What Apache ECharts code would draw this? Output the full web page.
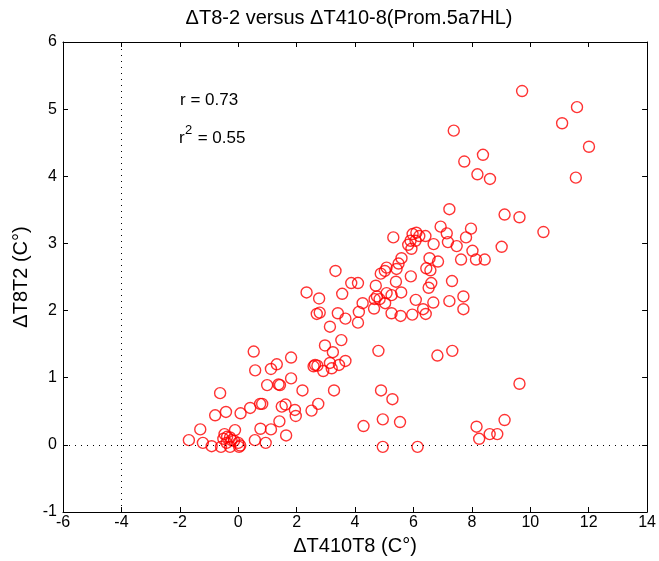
<!DOCTYPE html>
<html>
<head>
<meta charset="utf-8">
<script src="https://cdn.jsdelivr.net/npm/echarts@6/dist/echarts.min.js"></script>
<style>html,body{margin:0;padding:0;background:#fff;}#c{width:659px;height:561px;}</style>
</head>
<body>
<div id="c"></div>
<script>
var titleText = 'ΔT8-2 versus ΔT410-8(Prom.5a7HL)';
var xLabel = 'ΔT410T8 (C°)';
var yLabel = 'ΔT8T2 (C°)';
var xRange = [-6, 14, 2];
var yRange = [-1, 6, 1];
var refX = -4;
var refY = 0;
var statR = 'r = 0.73';
var statR2 = '0.55';

var xValues = [
 9.72,11.60,11.09,12.01,11.56,7.38,7.74,8.38,8.19,8.62,7.23,9.12,9.63,10.45,9.02,6.93,7.14,7.18,7.97,7.80,
 7.48,8.02,7.63,8.14,8.44,5.31,5.97,6.10,6.20,6.41,5.90,6.07,5.82,5.93,6.69,6.55,6.84,6.44,6.58,5.59,
 5.49,5.42,5.08,5.02,4.88,3.33,5.91,5.40,3.87,4.10,4.71,6.61,6.52,7.32,2.34,3.56,2.77,5.08,5.25,5.58,
 4.75,4.67,4.84,5.03,6.08,6.68,7.23,7.71,7.71,4.26,4.65,6.33,6.42,5.25,5.56,5.96,4.13,4.10,2.69,2.79,
 3.41,3.67,3.14,3.53,2.97,3.24,4.80,6.82,7.33,2.63,2.71,2.58,2.91,3.14,3.20,3.45,3.67,2.20,3.28,4.89,
 5.28,2.74,2.51,4.95,5.54,4.29,4.95,6.14,8.16,8.25,8.61,8.87,9.12,9.63,
 0.53,1.81,0.58,1.12,1.32,1.81,0.99,1.38,1.43,-0.62,0.75,0.82,1.62,1.49,0.41,0.08,-0.42,-0.79,1.94,1.97,
 1.41,-1.30,0.76,1.12,1.64,-0.11,-0.47,-0.38,-0.28,-0.51,-0.23,-0.40,-0.28,-1.69,-1.21,-0.91,-0.59,0.00,0.07,0.03,
 0.57,0.94,-0.14
];
var yValues = [
 5.27,5.03,4.79,4.44,3.98,4.68,4.22,4.32,4.03,3.96,3.51,3.43,3.39,3.17,2.95,3.25,3.15,3.02,3.22,3.09,
 2.96,2.89,2.76,2.76,2.76,3.09,3.14,3.16,3.11,3.11,3.04,3.04,2.98,2.92,2.99,2.78,2.73,2.63,2.60,2.78,
 2.70,2.62,2.64,2.59,2.55,2.59,2.51,2.43,2.41,2.41,2.37,2.41,2.34,2.44,2.27,2.25,2.18,2.26,2.23,2.27,
 2.21,2.17,2.17,2.11,2.16,2.12,2.14,2.21,2.02,2.11,2.03,2.02,1.95,1.96,1.92,1.94,1.98,1.82,1.95,1.97,
 1.96,1.88,1.76,1.56,1.48,1.38,1.40,1.33,1.40,1.19,1.18,1.17,1.10,1.22,1.14,1.19,1.25,0.81,0.81,0.81,
 0.68,0.61,0.51,0.38,0.34,0.28,-0.03,-0.03,0.27,0.09,0.16,0.16,0.37,0.91,
 1.39,1.30,1.11,1.13,1.20,0.99,0.89,0.90,0.89,0.77,0.61,0.61,0.60,0.57,0.55,0.47,0.49,0.44,0.52,0.43,
 0.35,0.23,0.24,0.23,0.14,0.22,0.16,0.12,0.11,0.09,0.07,0.03,-0.03,0.07,0.03,-0.02,-0.03,0.03,-0.01,-0.03,
 0.07,0.03,0.06
];

var points = xValues.map(function (x, i) { return [x, yValues[i]]; });
var FONT = 'Liberation Sans, Arial, sans-serif';
var TICKFONT = {color: '#000', fontFamily: FONT, fontSize: 16};

var chart = echarts.init(document.getElementById('c'), null, {renderer: 'canvas'});
function ax(extra) {
  return Object.assign({
    type: 'value',
    axisLine: {show: true, onZero: false, lineStyle: {color: '#000', width: 1}},
    axisTick: {show: true, inside: true, length: 5, lineStyle: {color: '#000'}},
    splitLine: {show: false}
  }, extra);
}

chart.setOption({
  animation: false,
  backgroundColor: '#fff',
  grid: {left: 63, right: 6, top: 42, bottom: 49, containLabel: false},
  xAxis: [
    ax({position: 'bottom', min: xRange[0], max: xRange[1], interval: xRange[2], axisLabel: Object.assign({margin: 3}, TICKFONT)}),
    ax({position: 'top', min: xRange[0], max: xRange[1], interval: xRange[2], axisLabel: {show: false}})
  ],
  yAxis: [
    ax({position: 'left', min: yRange[0], max: yRange[1], interval: yRange[2], axisLabel: Object.assign({margin: 6}, TICKFONT)}),
    ax({position: 'right', min: yRange[0], max: yRange[1], interval: yRange[2], axisLabel: {show: false}})
  ],
  series: [{
    type: 'scatter',
    data: points,
    symbol: 'circle',
    symbolSize: 11,
    itemStyle: {color: 'rgba(0,0,0,0)', borderColor: '#ff0000', borderWidth: 1.4},
    emphasis: {disabled: true},
    silent: true,
    markLine: {
      silent: true,
      symbol: ['none', 'none'],
      label: {show: false},
      lineStyle: {color: '#000', width: 1, type: [1, 5]},
      data: [{xAxis: refX}, {yAxis: refY}]
    }
  }],
  graphic: [
    {type: 'text', x: 349, y: 18, style: {text: titleText, font: '20px ' + FONT, fill: '#000', textAlign: 'center', textVerticalAlign: 'middle'}},
    {type: 'text', x: 355, y: 546, style: {text: xLabel, font: '20px ' + FONT, fill: '#000', textAlign: 'center', textVerticalAlign: 'middle'}},
    {type: 'text', x: 21, y: 277, rotation: Math.PI / 2, style: {text: yLabel, font: '20px ' + FONT, fill: '#000', textAlign: 'center', textVerticalAlign: 'middle'}},
    {type: 'text', x: 180, y: 100, style: {text: statR, font: '17px ' + FONT, fill: '#000', textVerticalAlign: 'middle'}},
    {type: 'text', x: 179, y: 138, style: {text: 'r', font: '17px ' + FONT, fill: '#000', textVerticalAlign: 'middle'}},
    {type: 'text', x: 185, y: 130, style: {text: '2', font: '13px ' + FONT, fill: '#000', textVerticalAlign: 'middle'}},
    {type: 'text', x: 193, y: 138, style: {text: ' = ' + statR2, font: '17px ' + FONT, fill: '#000', textVerticalAlign: 'middle'}}
  ]
});
</script>
</body>
</html>
